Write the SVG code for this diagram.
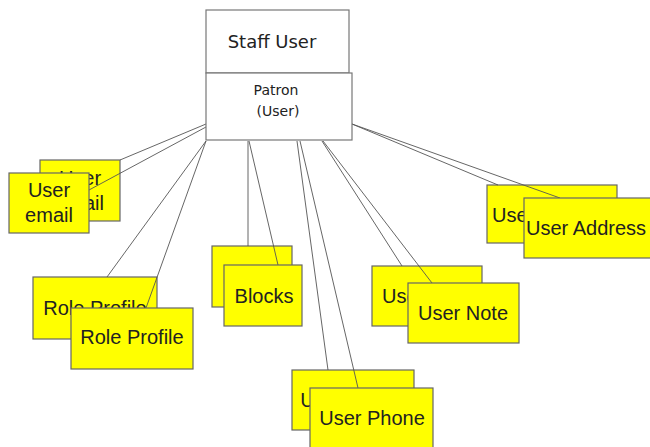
<svg xmlns="http://www.w3.org/2000/svg" width="650" height="447" viewBox="0 0 650 447">
<style>
.hdr{fill:#fff;stroke:#777;stroke-width:1.2}
.box{fill:#ffff00;stroke:#666;stroke-width:1.2}
.lbl{font-family:"Liberation Sans",Arial,sans-serif;font-size:20px;fill:#222;text-anchor:middle}
.hl{font-family:"DejaVu Sans",Verdana,sans-serif;fill:#222;text-anchor:middle}
.conn line{stroke:#555;stroke-width:0.9}
</style>
<rect width="650" height="447" fill="#fff"/>
<!-- back nodes -->
<g id="email-back"><rect class="box" x="40" y="160" width="80" height="61"/><text class="lbl" x="80" y="185">User</text><text class="lbl" x="80" y="210">email</text></g>
<g id="role-back"><rect class="box" x="33" y="277" width="124" height="62"/><text class="lbl" x="95" y="315">Role Profile</text></g>
<g id="blocks-back"><rect class="box" x="212" y="246" width="80" height="61"/><text class="lbl" x="252" y="284">Blocks</text></g>
<g id="note-back"><rect class="box" x="372" y="266" width="110" height="60"/><text class="lbl" x="427" y="303">User Note</text></g>
<g id="phone-back"><rect class="box" x="292" y="370" width="122" height="60"/><text class="lbl" x="353" y="407">User Phone</text></g>
<g id="address-back"><rect class="box" x="487" y="185" width="130" height="58"/><text class="lbl" x="552" y="222">User Address</text></g>
<!-- connectors -->
<g id="connectors" class="conn">
<line x1="206" y1="124" x2="120" y2="160"/>
<line x1="206" y1="127" x2="89" y2="190"/>
<line x1="206" y1="141" x2="107" y2="277"/>
<line x1="206" y1="141" x2="146" y2="308"/>
<line x1="248" y1="141" x2="248" y2="246"/>
<line x1="249" y1="141" x2="278" y2="265"/>
<line x1="297" y1="141" x2="328" y2="370"/>
<line x1="300" y1="141" x2="358" y2="388"/>
<line x1="322" y1="141" x2="402" y2="266"/>
<line x1="323" y1="141" x2="432" y2="283"/>
<line x1="352" y1="124" x2="498" y2="185"/>
<line x1="352" y1="124" x2="560" y2="198"/>
</g>
<!-- front nodes -->
<g id="staff-user"><rect class="hdr" x="206" y="10" width="143" height="63"/><text class="hl" x="272" y="48" font-size="18">Staff User</text></g>
<g id="patron"><rect class="hdr" x="206" y="73" width="146" height="67"/><text class="hl" x="276" y="95" font-size="14">Patron</text><text class="hl" x="278" y="116" font-size="14">(User)</text></g>
<g id="email"><rect class="box" x="9" y="173" width="80" height="60"/><text class="lbl" x="49" y="197">User</text><text class="lbl" x="49" y="222">email</text></g>
<g id="role"><rect class="box" x="71" y="308" width="122" height="61"/><text class="lbl" x="132" y="344">Role Profile</text></g>
<g id="blocks"><rect class="box" x="224" y="265" width="78" height="61"/><text class="lbl" x="264" y="303">Blocks</text></g>
<g id="note"><rect class="box" x="408" y="283" width="111" height="60"/><text class="lbl" x="463" y="320">User Note</text></g>
<g id="phone"><rect class="box" x="310" y="388" width="123" height="62"/><text class="lbl" x="372" y="425">User Phone</text></g>
<g id="address"><rect class="box" x="524" y="198" width="130" height="60"/><text class="lbl" x="526" y="235" style="text-anchor:start">User Address</text></g>
</svg>
